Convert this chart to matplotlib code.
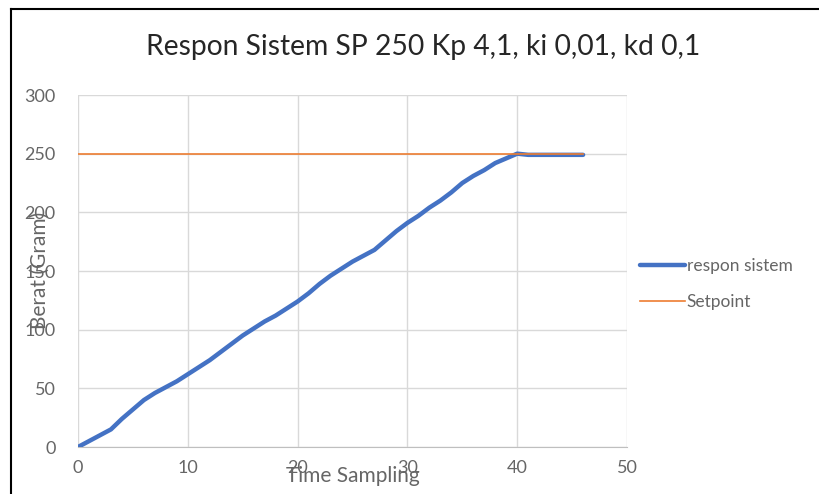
import matplotlib
matplotlib.use("Agg")
import matplotlib.pyplot as plt
from matplotlib.lines import Line2D

# data
time_sampling = list(range(0, 47))
respon_sistem = [0, 5, 10, 15, 24, 32, 40, 46, 51, 56,
                 62, 68, 74, 81, 88, 95, 101, 107, 112, 118,
                 124, 131, 139, 146, 152, 158, 163, 168, 176, 184,
                 191, 197, 204, 210, 217, 225, 231, 236, 242, 246,
                 250, 249, 249, 249, 249, 249, 249]
setpoint = [250] * len(time_sampling)

title = "Respon Sistem SP 250 Kp 4,1, ki 0,01, kd 0,1"
xticks = [0, 10, 20, 30, 40, 50]
yticks = [0, 50, 100, 150, 200, 250, 300]

plt.rcParams['font.family'] = ['Lato', 'DejaVu Sans']
grey = '#666666'

fig = plt.figure(figsize=(8.19, 4.94), dpi=100)
ax = fig.add_axes([78 / 819, 47 / 494, 549 / 819, 352 / 494])

ax.plot(time_sampling, respon_sistem, color='#4472C4', lw=3.2,
        solid_capstyle='round', label='respon sistem', zorder=3)
ax.plot(time_sampling, setpoint, color='#ED7D31', lw=1.2,
        label='Setpoint', zorder=4)

ax.set_xlim(0, 50)
ax.set_ylim(0, 300)
ax.set_xticks(xticks)
ax.set_yticks(yticks)
ax.grid(True, color='#d9d9d9', lw=1.0)
ax.set_axisbelow(True)
for s in ['top', 'right', 'left']:
    ax.spines[s].set_visible(False)
ax.spines['bottom'].set_color('#bfbfbf')
ax.tick_params(length=0, labelsize=13, labelcolor=grey)
ax.tick_params(axis='x', pad=9)
ax.tick_params(axis='y', pad=16)

fig.text(423 / 819, 1 - 47 / 494, title, ha='center', va='center',
         fontsize=20.3, color='#262626')
fig.text(40 / 819, 1 - 270 / 494, 'Berat (Gram)', rotation=90,
         ha='center', va='center', fontsize=15, color=grey)
fig.text(353 / 819, 1 - 476 / 494, 'Time Sampling', ha='center',
         va='center', fontsize=15, color=grey)

leg = ax.legend(loc='center left', frameon=False, borderaxespad=0,
                borderpad=0, fontsize=12.5, labelcolor=grey,
                handlelength=2.6, handletextpad=0.1, labelspacing=1.15)
leg.set_bbox_to_anchor((640 / 819, 1 - 284 / 494), transform=fig.transFigure)

# frame lines of the screenshot
fig.add_artist(Line2D([11 / 819, 1], [1 - 9 / 494, 1 - 9 / 494],
                      color='black', lw=1.5, transform=fig.transFigure))
fig.add_artist(Line2D([11 / 819, 11 / 819], [0, 1 - 9 / 494],
                      color='black', lw=1.5, transform=fig.transFigure))

fig.savefig('out.png', dpi=100)
